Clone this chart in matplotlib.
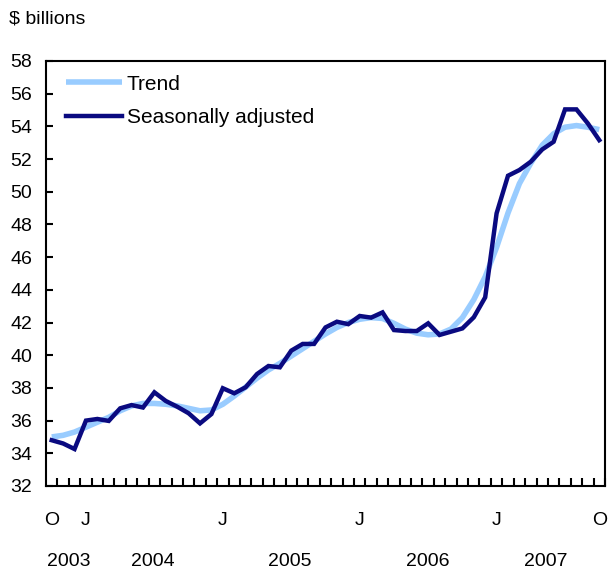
import numpy as np
import matplotlib.pyplot as plt
from matplotlib import transforms

plt.rcParams['font.family'] = ['Liberation Sans', 'DejaVu Sans']

# monthly, Oct 2003 .. Oct 2007
seas_adj = [34.8, 34.6, 34.26, 36.0, 36.1, 35.98, 36.75, 36.95, 36.8, 37.73,
            37.2, 36.85, 36.45, 35.83, 36.4, 37.98, 37.67, 38.04, 38.85, 39.34,
            39.26, 40.28, 40.69, 40.69, 41.7, 42.05, 41.9, 42.4, 42.3, 42.62,
            41.54, 41.48, 41.48, 41.95, 41.24, 41.44, 41.64, 42.32, 43.54, 48.68,
            50.98, 51.33, 51.84, 52.59, 53.06, 55.04, 55.04, 54.18, 53.16]
trend = [35.0, 35.1, 35.3, 35.6, 35.9, 36.2, 36.6, 36.9, 37.05, 37.05,
         37.0, 36.9, 36.75, 36.6, 36.65, 37.0, 37.5, 38.05, 38.6, 39.1,
         39.5, 39.95, 40.4, 40.85, 41.3, 41.7, 42.0, 42.2, 42.3, 42.25,
         41.95, 41.6, 41.35, 41.25, 41.3, 41.6, 42.3, 43.4, 44.8, 46.6,
         48.7, 50.5, 51.75, 52.85, 53.55, 53.95, 54.05, 53.95, 53.8]
month_labels = {0: 'O', 3: 'J', 15: 'J', 27: 'J', 39: 'J', 48: 'O'}
years = ['2003', '2004', '2005', '2006', '2007']
year_pos = [1.5, 8.9, 20.9, 33.0, 43.3]

FS = 14
x = np.arange(len(seas_adj))

fig = plt.figure(figsize=(6.08, 5.69), dpi=100)
ax = fig.add_axes([0.0757, 0.1459, 0.9193, 0.7469])

ax.plot(x, trend, color='#99ccff', lw=4.0, label='Trend', solid_capstyle='butt')
ax.plot(x, seas_adj, color='#0a0a80', lw=3.2, label='Seasonally adjusted',
        solid_joinstyle='miter')

ax.set_xlim(-0.5, 48.5)
ax.set_ylim(32, 58)
ax.set_yticks(np.arange(32, 59, 2))
ax.tick_params(axis='y', direction='in', length=5, width=1.5, labelsize=FS, pad=10)

ax.set_xticks(np.arange(0, 49) + 0.5)
ax.set_xticklabels([])
ax.tick_params(axis='x', which='major', direction='in', length=6, width=1.5)
ax.set_xticks(list(month_labels.keys()), minor=True)
ax.set_xticklabels(list(month_labels.values()), minor=True)
ax.tick_params(axis='x', which='minor', length=0, labelsize=FS, pad=19)

for s in ax.spines.values():
    s.set_linewidth(1.5)

trans = transforms.blended_transform_factory(ax.transData, fig.transFigure)
for yr, p in zip(years, year_pos):
    ax.text(p, 0.005, yr, transform=trans, ha='center', va='baseline', fontsize=FS)

fig.text(0.014, 0.967, '$ billions', ha='left', va='center', fontsize=FS)

ax.legend(loc='upper left', frameon=False, fontsize=15, handlelength=2.7,
          handletextpad=0.22, borderaxespad=0, borderpad=0, labelspacing=0.7,
          bbox_to_anchor=(0.036, 0.968))

fig.savefig('out.png', dpi=100)
